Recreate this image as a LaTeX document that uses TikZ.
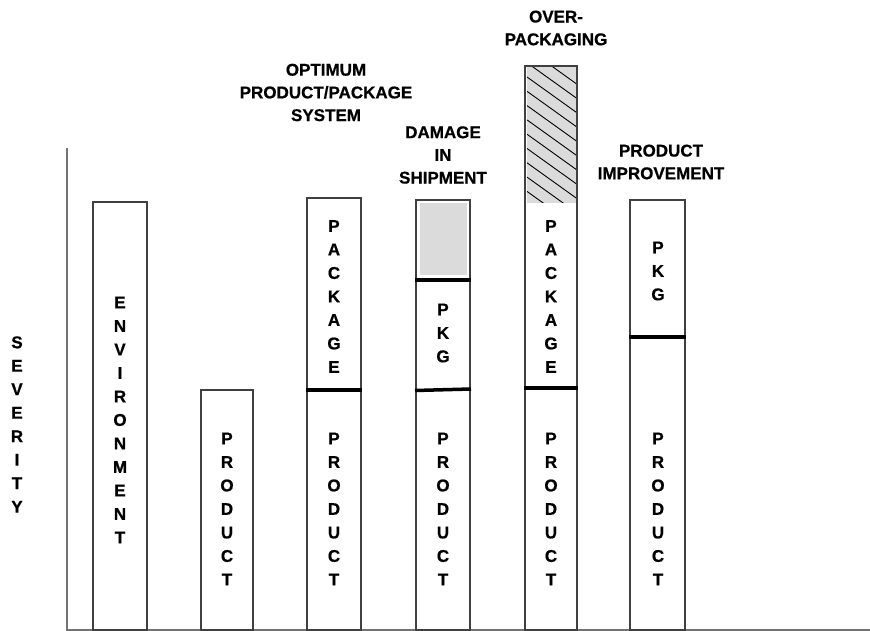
\documentclass[tikz,border=0pt]{standalone}
\usepackage{fontspec}
\setmainfont{Liberation Sans}[BoldFeatures={FakeBold=0.7}]
\begin{document}
\begin{tikzpicture}[x=1pt,y=-1pt,
  bar/.style={draw=black!75,line width=1.2pt,fill=white},
  sepline/.style={line width=3.5pt,black},
  axis/.style={draw=black!55,line width=1.5pt},
  stack/.style={font=\bfseries\fontsize{17}{23.5}\selectfont,align=center,inner sep=0pt},
  title/.style={font=\bfseries\fontsize{17}{22.7}\selectfont,align=center,inner sep=0pt},
  shade/.style={fill=black!14,draw=none}]
\useasboundingbox (0,0) rectangle (870,631);
% axes
\coordinate (ytop) at (67,148);
\coordinate (orig) at (67,630);
\coordinate (xend) at (870,630);
\draw[axis] (ytop) -- (orig) -- (xend);
% bars
\draw[bar] (93,630) rectangle (147,202);
\draw[bar] (201,630) rectangle (253,390);
\draw[bar] (307,630) rectangle (361,198);
\draw[bar] (416,630) rectangle (470,200);
\fill[shade] (420,203) rectangle (467,275);
\draw[bar] (525,630) rectangle (577,66);
\fill[shade] (527,67) rectangle (576,203);
\begin{scope}
  \clip (527,67) rectangle (576,203);
  \foreach \k in {-2,...,8} \draw[line width=0.9pt] (527,77+14.3*\k) -- ++(60,43);
\end{scope}
\draw[bar,fill=none] (525,630) rectangle (577,66);
\draw[bar] (630,630) rectangle (685,200);
% separators
\draw[sepline] (306,390) -- (362,390);
\draw[sepline] (415,280) -- (471,280);
\draw[sepline] (415,390.5) -- (471,389);
\draw[sepline] (524,388) -- (578,388);
\draw[sepline] (629,337) -- (686,337);
% stacks
\node[stack] (sev) at (17,424.5) {S\\E\\V\\E\\R\\I\\T\\Y};
\node[stack] (env) at (120,420) {E\\N\\V\\I\\R\\O\\N\\M\\E\\N\\T};
\node[stack] (p1) at (227,509) {P\\R\\O\\D\\U\\C\\T};
\node[stack] (pk2) at (334,296.5) {P\\A\\C\\K\\A\\G\\E};
\node[stack] (p2) at (334,509) {P\\R\\O\\D\\U\\C\\T};
\node[stack] (pk3) at (443,333) {P\\K\\G};
\node[stack] (p3) at (443,509) {P\\R\\O\\D\\U\\C\\T};
\node[stack] (pk4) at (551,296.5) {P\\A\\C\\K\\A\\G\\E};
\node[stack] (p4) at (551,509) {P\\R\\O\\D\\U\\C\\T};
\node[stack] (pk5) at (658,271) {P\\K\\G};
\node[stack] (p5) at (658,509) {P\\R\\O\\D\\U\\C\\T};
% titles
\node[title] (t1) at (326,92.5) {OPTIMUM\\PRODUCT/PACKAGE\\SYSTEM};
\node[title] (t2) at (443,155) {DAMAGE\\IN\\SHIPMENT};
\node[title] (t3) at (556,28) {OVER-\\PACKAGING};
\node[title] (t4) at (661,162) {PRODUCT\\IMPROVEMENT};
\end{tikzpicture}
\end{document}
